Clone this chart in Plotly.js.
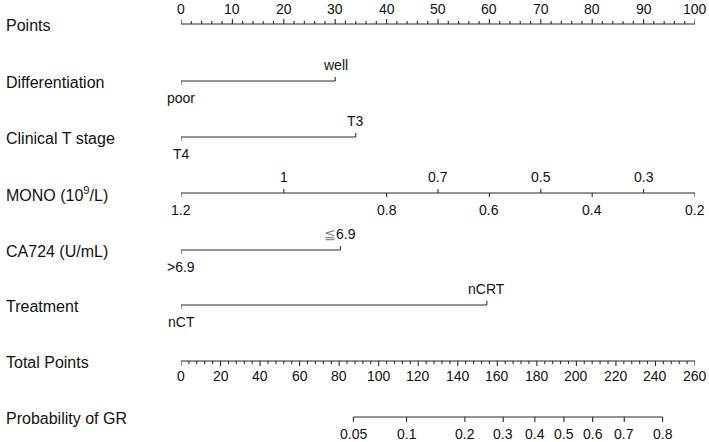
<!DOCTYPE html>
<html>
<head>
<meta charset="utf-8">
<script src="https://cdn.plot.ly/plotly-3.0.1.min.js"></script>
<style>
  html, body { margin: 0; padding: 0; background: #fff; }
  #chart { width: 709px; height: 442px; }
</style>
</head>
<body>
<div id="chart"></div>
<script>
// Nomogram for predicting good response (GR)

// Points scale (0-100)
const pointsTicks = [0, 10, 20, 30, 40, 50, 60, 70, 80, 90, 100];

// Differentiation
const diffLevels = ['poor', 'well'];
const diffPoints = [0, 30];

// Clinical T stage
const tStageLevels = ['T4', 'T3'];
const tStagePoints = [0, 34];

// MONO (10^9/L)
const monoValues = ['1.2', '1', '0.8', '0.7', '0.6', '0.5', '0.4', '0.3', '0.2'];
const monoPoints = [0, 20, 40, 50, 60, 70, 80, 90, 100];
const monoAbove = [false, true, false, true, false, true, false, true, false];

// CA724 (U/mL)
const ca724Levels = ['>6.9', '≦6.9'];
const ca724Points = [0, 31];

// Treatment
const treatLevels = ['nCT', 'nCRT'];
const treatPoints = [0, 59.5];

// Total points scale (0-260)
const totalTicks = [0, 20, 40, 60, 80, 100, 120, 140, 160, 180, 200, 220, 240, 260];

// Probability of GR, placed on the total points scale
const probLabels = ['0.05', '0.1', '0.2', '0.3', '0.4', '0.5', '0.6', '0.7', '0.8'];
const probTotals = [87.2, 114.1, 143.6, 163.0, 179.0, 193.7, 208.2, 224.2, 243.6];

// Row titles
const rowTitles = ['Points', 'Differentiation', 'Clinical T stage', 'MONO (10<sup>9</sup>/L)',
                   'CA724 (U/mL)', 'Treatment', 'Total Points', 'Probability of GR'];

// ---- drawing ----
const W = 709, H = 442;
const X0 = 181, X1 = 695;
const rowY = [24, 81, 137, 193, 250, 305, 361, 417];
const LINE = '#2a2a2a';
const TEXT = '#111';
const FONT = 'Liberation Sans, Arial, Helvetica, sans-serif';

const traces = [];
const annotations = [];

function segTrace(xs, ys, axis) {
  traces.push({
    type: 'scatter', mode: 'lines', x: xs, y: ys,
    xaxis: axis || 'x', yaxis: 'y',
    line: { color: LINE, width: 1.1 }, hoverinfo: 'skip', showlegend: false
  });
}

function label(text, x, y, axis, size) {
  annotations.push({
    text: text, x: x, y: y, xref: axis || 'x', yref: 'y',
    showarrow: false, xanchor: 'center', yanchor: 'middle',
    font: { family: FONT, size: size || 14, color: TEXT }
  });
}

// Row titles on the left
rowTitles.forEach((t, i) => {
  annotations.push({
    text: t, x: 4 / W, y: rowY[i] + 1, xref: 'paper', yref: 'y',
    showarrow: false, xanchor: 'left', yanchor: 'middle',
    font: { family: FONT, size: 16, color: TEXT }
  });
});

// Generic scale: axis line with ticks pointing toward the labels
function scale(y, lo, hi, majors, minorStep, dir, axis, labels, labelPos) {
  const xs = [lo, hi, null], ys = [y, y, null];
  for (let v = lo; v <= hi + 1e-9; v += minorStep) {
    const isMajor = majors.some(m => Math.abs(m - v) < 1e-6);
    xs.push(v, v, null);
    ys.push(y, y + dir * (isMajor ? 5 : 3), null);
  }
  segTrace(xs, ys, axis);
  majors.forEach((m, i) => label(labels ? labels[i] : String(m), labelPos ? labelPos[i] : m,
                                 y + dir * 15, axis));
}

// Points
scale(rowY[0], 0, 100, pointsTicks, 2, -1, 'x');

// Two-level categorical rows: first level below, second above
function catRow(y, levels, pts) {
  const xs = [pts[0], pts[1], null], ys = [y, y, null];
  xs.push(pts[0], pts[0], null); ys.push(y, y + 4, null);
  xs.push(pts[1], pts[1], null); ys.push(y, y - 4, null);
  segTrace(xs, ys, 'x');
  label(levels[0], pts[0], y + 17, 'x');
  label(levels[1], pts[1], y - 16, 'x');
}
catRow(rowY[1], diffLevels, diffPoints);
catRow(rowY[2], tStageLevels, tStagePoints);

// MONO: labels alternate above/below
(function () {
  const y = rowY[3];
  const xs = [monoPoints[0], monoPoints[monoPoints.length - 1], null], ys = [y, y, null];
  monoPoints.forEach((p, i) => {
    const d = monoAbove[i] ? -1 : 1;
    xs.push(p, p, null); ys.push(y, y + d * 4, null);
    label(monoValues[i], p, y + (monoAbove[i] ? -16 : 17), 'x');
  });
  segTrace(xs, ys, 'x');
})();

// CA724: the "≦" sign is drawn in a lighter grey
catRow(rowY[4], [ca724Levels[0], ca724Levels[1].replace('≦', '<span style="color:#8a8a8a">≦</span>')], ca724Points);
catRow(rowY[5], treatLevels, treatPoints);

// Total Points
scale(rowY[6], 0, 260, totalTicks, 4, 1, 'x2');

// Probability of GR
(function () {
  const y = rowY[7];
  const xs = [probTotals[0], probTotals[probTotals.length - 1], null], ys = [y, y, null];
  probTotals.forEach((t, i) => {
    xs.push(t, t, null); ys.push(y, y + 5, null);
    label(probLabels[i], t, y + 17, 'x2');
  });
  segTrace(xs, ys, 'x2');
})();

const layout = {
  width: W, height: H,
  margin: { l: 0, r: 0, t: 0, b: 0, pad: 0 },
  paper_bgcolor: '#fff', plot_bgcolor: '#fff',
  showlegend: false,
  xaxis: { domain: [X0 / W, X1 / W], range: [0, 100], visible: false, fixedrange: true },
  xaxis2: { overlaying: 'x', range: [0, 260], visible: false, fixedrange: true },
  yaxis: { domain: [0, 1], range: [H, 0], visible: false, fixedrange: true },
  annotations: annotations
};

Plotly.newPlot('chart', traces, layout, { displayModeBar: false, staticPlot: true });
</script>
</body>
</html>
